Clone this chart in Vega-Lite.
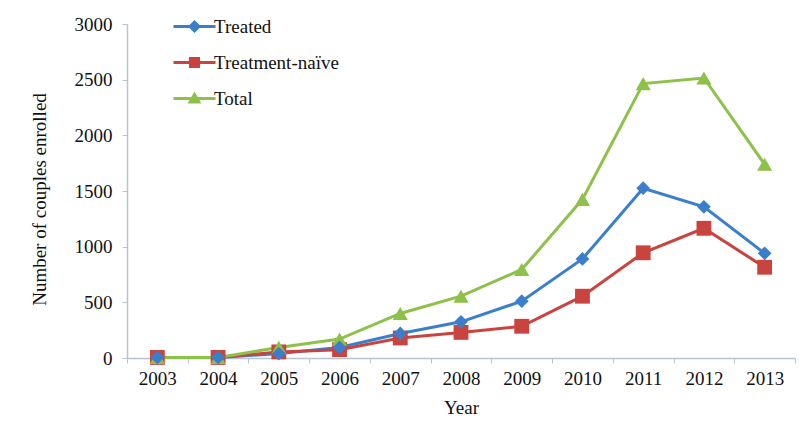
{
  "$schema": "https://vega.github.io/schema/vega-lite/v6.json",
  "width": 668,
  "height": 334,
  "autosize": "none",
  "padding": {"left": 127, "top": 24, "right": 5, "bottom": 78},
  "background": "white",
  "config": {
    "view": {"stroke": null},
    "font": "Liberation Serif",
    "axis": {"labelFont": "Liberation Serif", "titleFont": "Liberation Serif", "labelFontSize": 19, "titleFontSize": 19, "titleFontWeight": "normal", "labelColor": "#111", "titleColor": "#111", "domainColor": "#b8c4d0", "tickColor": "#b8c4d0", "grid": false},
    "legend": {"labelFont": "Liberation Serif", "labelFontSize": 19, "labelColor": "#111"}
  },
  "data": {
    "values": [
      {"year": "2003", "series": "Treated", "n": 5},
      {"year": "2004", "series": "Treated", "n": 5},
      {"year": "2005", "series": "Treated", "n": 40},
      {"year": "2006", "series": "Treated", "n": 95},
      {"year": "2007", "series": "Treated", "n": 220},
      {"year": "2008", "series": "Treated", "n": 325},
      {"year": "2009", "series": "Treated", "n": 510},
      {"year": "2010", "series": "Treated", "n": 890},
      {"year": "2011", "series": "Treated", "n": 1525},
      {"year": "2012", "series": "Treated", "n": 1358},
      {"year": "2013", "series": "Treated", "n": 940},
      {"year": "2003", "series": "Treatment-naïve", "n": 5},
      {"year": "2004", "series": "Treatment-naïve", "n": 5},
      {"year": "2005", "series": "Treatment-naïve", "n": 55},
      {"year": "2006", "series": "Treatment-naïve", "n": 75},
      {"year": "2007", "series": "Treatment-naïve", "n": 180},
      {"year": "2008", "series": "Treatment-naïve", "n": 230},
      {"year": "2009", "series": "Treatment-naïve", "n": 285},
      {"year": "2010", "series": "Treatment-naïve", "n": 555},
      {"year": "2011", "series": "Treatment-naïve", "n": 945},
      {"year": "2012", "series": "Treatment-naïve", "n": 1165},
      {"year": "2013", "series": "Treatment-naïve", "n": 815},
      {"year": "2003", "series": "Total", "n": 5},
      {"year": "2004", "series": "Total", "n": 5},
      {"year": "2005", "series": "Total", "n": 95},
      {"year": "2006", "series": "Total", "n": 170},
      {"year": "2007", "series": "Total", "n": 400},
      {"year": "2008", "series": "Total", "n": 555},
      {"year": "2009", "series": "Total", "n": 795},
      {"year": "2010", "series": "Total", "n": 1425},
      {"year": "2011", "series": "Total", "n": 2465},
      {"year": "2012", "series": "Total", "n": 2515},
      {"year": "2013", "series": "Total", "n": 1740}
    ]
  },
  "encoding": {
    "x": {"field": "year", "type": "ordinal", "scale": {"paddingInner": 0, "paddingOuter": 0}, "axis": {"title": "Year", "labelAngle": 0, "tickBand": "extent", "tickSize": 5, "labelPadding": 6, "titlePadding": 10, "domainWidth": 1.5}},
    "y": {"field": "n", "type": "quantitative", "scale": {"domain": [0, 3000]}, "axis": {"title": "Number of couples enrolled", "format": "d", "values": [0, 500, 1000, 1500, 2000, 2500, 3000], "tickSize": 5, "labelPadding": 10, "titlePadding": 25, "titleY": 175, "domainWidth": 1.5}},
    "color": {"field": "series", "type": "nominal", "title": null, "scale": {"domain": ["Treated", "Treatment-naïve", "Total"], "range": ["#3b7fcc", "#c9443f", "#8dc14a"]}}
  },
  "resolve": {"legend": {"color": "independent", "shape": "independent"}},
  "layer": [
    {"mark": {"type": "line", "strokeWidth": 3}, "encoding": {"color": {"field": "series", "type": "nominal", "legend": null}}},
    {"transform": [{"filter": "datum.series === 'Treatment-naïve'"}], "mark": {"type": "point", "shape": "square", "filled": true, "opacity": 1, "size": 220, "strokeWidth": 0}, "encoding": {"color": {"field": "series", "type": "nominal", "legend": null}}},
    {"transform": [{"filter": "datum.series === 'Total'"}], "mark": {"type": "point", "shape": "triangle-up", "filled": true, "opacity": 1, "size": 230, "strokeWidth": 0}, "encoding": {"color": {"field": "series", "type": "nominal", "legend": null}}},
    {"transform": [{"filter": "datum.series === 'Treated'"}], "mark": {"type": "point", "shape": "diamond", "filled": true, "opacity": 1, "size": 190, "strokeWidth": 0}, "encoding": {"color": {"field": "series", "type": "nominal", "legend": null}}},
    {
      "mark": {"type": "point", "filled": true, "opacity": 0, "strokeWidth": 0},
      "encoding": {
        "color": {"field": "series", "type": "nominal", "title": null, "legend": {"orient": "none", "legendX": 58, "legendY": -7, "padding": 0, "symbolSize": 100, "symbolOpacity": 1, "symbolStrokeWidth": 0, "labelOffset": 10, "rowPadding": 16, "title": null}},
        "shape": {"field": "series", "type": "nominal", "title": null, "scale": {"domain": ["Treated", "Treatment-naïve", "Total"], "range": ["M-4.2,-0.3H4.2V0.3H-4.2Z M0,-1.3L1.3,0L0,1.3L-1.3,0Z", "M-4.2,-0.3H4.2V0.3H-4.2Z M-1.1,-1.1H1.1V1.1H-1.1Z", "M-4.2,-0.3H4.2V0.3H-4.2Z M0,-1.4L1.4,1H-1.4Z"]}, "legend": {"orient": "none", "legendX": 58, "legendY": -7, "padding": 0, "symbolSize": 100, "symbolOpacity": 1, "symbolStrokeWidth": 0, "labelOffset": 10, "rowPadding": 16, "title": null}}
      }
    }
  ]
}
